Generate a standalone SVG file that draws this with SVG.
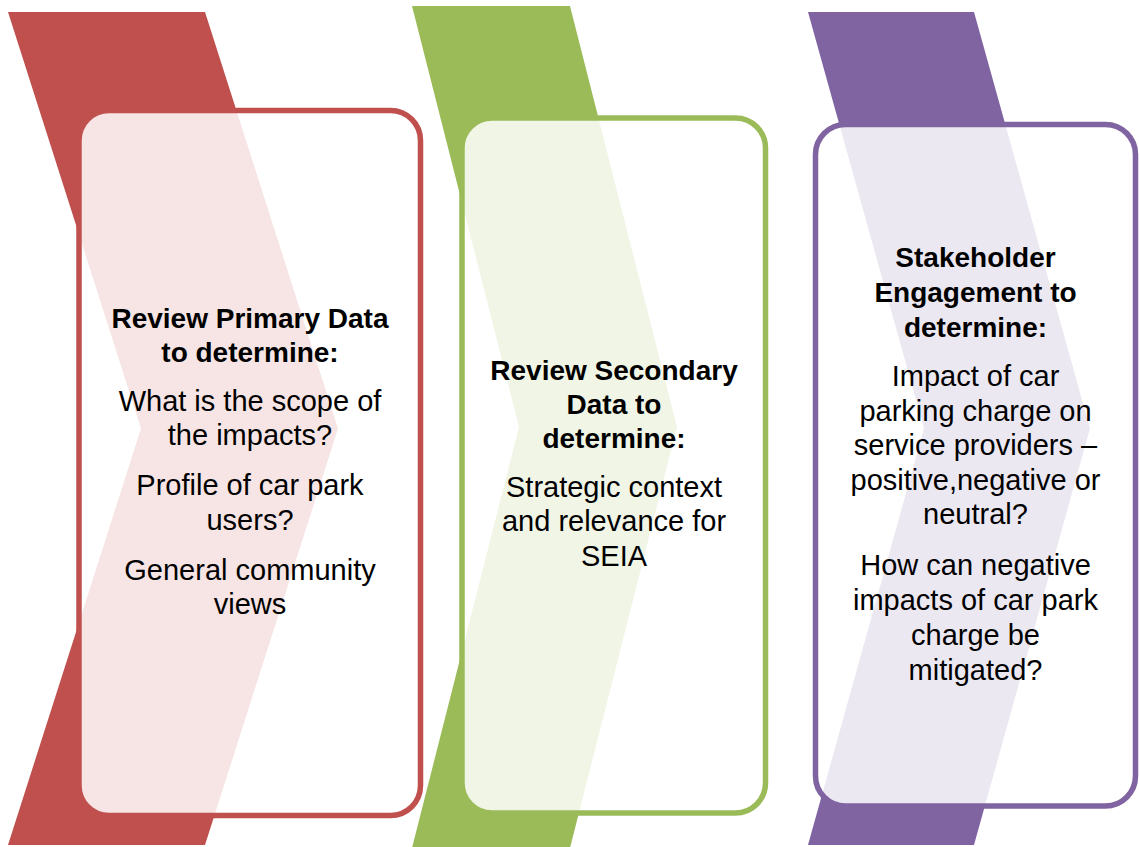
<svg xmlns="http://www.w3.org/2000/svg" width="1139" height="847" viewBox="0 0 1139 847">
  <style>
    .box { fill: #ffffff; fill-opacity: 0.85; stroke-width: 5.5; }
    .red { fill: #C0504D; }
    .green { fill: #9BBB59; }
    .purple { fill: #8064A2; }
    .sred { stroke: #C0504D; }
    .sgreen { stroke: #9BBB59; }
    .spurple { stroke: #8064A2; }
    text { font-family: "Liberation Sans", Arial, sans-serif; fill: #000000; text-anchor: middle; }
    .h { font-weight: bold; font-size: 28px; }
    .b { font-size: 29px; }
  </style>

  <!-- Step 1: primary data review -->
  <g id="step-primary">
    <polygon class="red" points="8,12 205,12 338,428.5 205,845 8,845 141,428.5"/>
    <rect class="box sred" x="79" y="110.5" width="341.5" height="705" rx="30" ry="30"/>
    <text class="h" x="250" y="328">Review Primary Data</text>
    <text class="h" x="250" y="362">to determine:</text>
    <text class="b" x="250" y="411">What is the scope of</text>
    <text class="b" x="250" y="445">the impacts?</text>
    <text class="b" x="250" y="495">Profile of car park</text>
    <text class="b" x="250" y="530">users?</text>
    <text class="b" x="250" y="580">General community</text>
    <text class="b" x="250" y="614">views</text>
  </g>

  <!-- Step 2: secondary data review -->
  <g id="step-secondary">
    <polygon class="green" points="412,6 570,6 677,427 570,848 412,848 519,427"/>
    <rect class="box sgreen" x="462" y="118" width="303.5" height="695" rx="30" ry="30"/>
    <text class="h" x="614" y="380">Review Secondary</text>
    <text class="h" x="614" y="414">Data to</text>
    <text class="h" x="614" y="448">determine:</text>
    <text class="b" x="614" y="497">Strategic context</text>
    <text class="b" x="614" y="531">and relevance for</text>
    <text class="b" x="614" y="566">SEIA</text>
  </g>

  <!-- Step 3: stakeholder engagement -->
  <g id="step-stakeholder">
    <polygon class="purple" points="808,12 974,12 1090,428.5 974,845 808,845 924,428.5"/>
    <rect class="box spurple" x="815.5" y="124.5" width="320" height="681.5" rx="30" ry="30"/>
    <text class="h" x="975.5" y="267">Stakeholder</text>
    <text class="h" x="975.5" y="302">Engagement to</text>
    <text class="h" x="975.5" y="337">determine:</text>
    <text class="b" x="975.5" y="386">Impact of car</text>
    <text class="b" x="975.5" y="421">parking charge on</text>
    <text class="b" x="975.5" y="455">service providers –</text>
    <text class="b" x="975.5" y="490">positive,negative or</text>
    <text class="b" x="975.5" y="524">neutral?</text>
    <text class="b" x="975.5" y="575">How can negative</text>
    <text class="b" x="975.5" y="610">impacts of car park</text>
    <text class="b" x="975.5" y="645">charge be</text>
    <text class="b" x="975.5" y="680">mitigated?</text>
  </g>

  <!-- no connectors between the steps -->
  <g id="connectors"/>
</svg>
